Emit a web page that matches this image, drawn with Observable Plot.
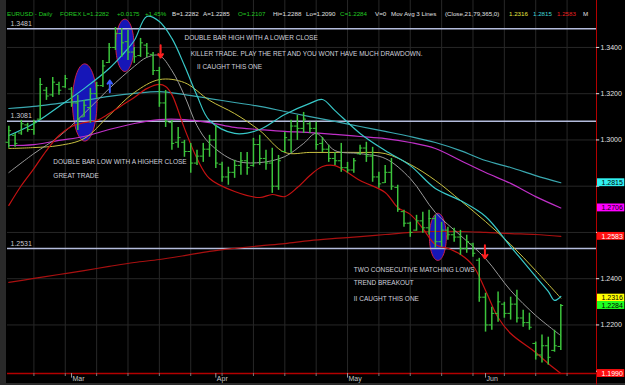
<!DOCTYPE html>
<html><head><meta charset="utf-8">
<script src="https://cdn.jsdelivr.net/npm/d3@7"></script>
<script src="https://cdn.jsdelivr.net/npm/@observablehq/plot@0.6"></script>
<style>
body{margin:0;background:#000;}
#wrap{position:relative;width:625px;height:385px;background:#000;overflow:hidden;font-family:"Liberation Sans",Arial,sans-serif;}
#wrap svg{position:absolute;left:0;top:0;}
#hdr{position:absolute;left:0;top:0;width:625px;height:18px;font-size:6.2px;}
#hdr span{position:absolute;top:9.5px;line-height:7px;white-space:nowrap;}
#lstrip{position:absolute;left:0;top:0;width:6px;height:385px;background:#2a2a2a;}
#bstrip{position:absolute;left:0;top:383px;width:625px;height:2px;background:#2a2a2a;}
</style></head><body>
<div id="wrap"><div id="lstrip"></div><div id="bstrip"></div><div id="hdr"></div></div>
<script>
// ---------- DATA ----------
const highs = [1.3059,1.3028,1.3085,1.3072,1.3085,1.3266,1.3227,1.3270,1.3249,1.3279,
1.3227,1.3193,1.3171,1.3223,1.3249,1.3344,1.3417,1.3486,1.3482,1.3473,
1.3400,1.3439,1.3417,1.3378,1.3314,1.3214,1.3085,1.3054,1.2998,1.2985,
1.2955,1.2985,1.3020,1.3063,1.2903,1.2882,1.2912,1.2946,1.2946,1.3007,
1.3020,1.2955,1.2964,1.2933,1.3033,1.3085,1.3106,1.3119,1.3076,1.3076,
1.3011,1.2977,1.2946,1.2985,1.2903,1.2920,1.2977,1.2990,1.2968,1.2860,
1.2890,1.2920,1.2804,1.2696,1.2644,1.2674,1.2687,1.2696,1.2674,1.2644,
1.2622,1.2618,1.2609,1.2588,1.2553,1.2488,1.2337,1.2277,1.2342,1.2298,
1.2320,1.2350,1.2264,1.2251,1.2126,1.2156,1.2147,1.2177,1.2288];
const lows = [1.2964,1.2968,1.3020,1.3033,1.3020,1.3085,1.3171,1.3184,1.3193,1.3223,
1.3141,1.3041,1.3098,1.3072,1.3180,1.3227,1.3331,1.3387,1.3357,1.3344,
1.3331,1.3357,1.3357,1.3279,1.3141,1.3054,1.2955,1.2964,1.2925,1.2856,
1.2890,1.2903,1.2925,1.2877,1.2817,1.2804,1.2834,1.2847,1.2847,1.2882,
1.2890,1.2869,1.2769,1.2782,1.2946,1.2942,1.2998,1.3028,1.3028,1.2955,
1.2946,1.2903,1.2890,1.2860,1.2856,1.2856,1.2933,1.2903,1.2817,1.2791,
1.2812,1.2782,1.2687,1.2622,1.2579,1.2605,1.2596,1.2588,1.2532,1.2536,
1.2566,1.2558,1.2501,1.2510,1.2493,1.2298,1.2169,1.2177,1.2212,1.2229,
1.2221,1.2208,1.2190,1.2177,1.2048,1.2035,1.2026,1.2082,1.2090];
const opens = [1.2990,1.3020,1.3030,1.3065,1.3045,1.3090,1.3215,1.3195,1.3240,1.3230,
1.3220,1.3160,1.3100,1.3140,1.3200,1.3235,1.3335,1.3400,1.3460,1.3425,
1.3380,1.3365,1.3410,1.3370,1.3300,1.3160,1.3075,1.2990,1.2990,1.2950,
1.2900,1.2930,1.2960,1.3000,1.2895,1.2840,1.2860,1.2890,1.2910,1.2890,
1.2980,1.2920,1.2900,1.2800,1.2950,1.3000,1.3060,1.3050,1.3070,1.3050,
1.2985,1.2960,1.2920,1.2910,1.2880,1.2870,1.2940,1.2965,1.2930,1.2840,
1.2815,1.2860,1.2795,1.2690,1.2640,1.2610,1.2650,1.2620,1.2660,1.2560,
1.2610,1.2590,1.2580,1.2530,1.2550,1.2480,1.2320,1.2200,1.2250,1.2290,
1.2250,1.2290,1.2230,1.2210,1.2120,1.2070,1.2110,1.2090,1.2107];
const closes = [1.3040,1.2985,1.3070,1.3045,1.3075,1.3240,1.3190,1.3250,1.3215,1.3265,
1.3160,1.3090,1.3150,1.3200,1.3235,1.3320,1.3400,1.3460,1.3420,1.3380,
1.3360,1.3420,1.3375,1.3300,1.3160,1.3080,1.2985,1.3010,1.2950,1.2900,
1.2930,1.2960,1.3000,1.2900,1.2840,1.2860,1.2890,1.2910,1.2880,1.2980,
1.2920,1.2900,1.2800,1.2910,1.3010,1.3060,1.3050,1.3090,1.3050,1.2980,
1.2960,1.2920,1.2910,1.2880,1.2870,1.2910,1.2965,1.2930,1.2840,1.2810,
1.2860,1.2800,1.2700,1.2640,1.2600,1.2650,1.2620,1.2660,1.2560,1.2610,
1.2590,1.2580,1.2530,1.2560,1.2510,1.2320,1.2200,1.2250,1.2300,1.2250,
1.2290,1.2230,1.2210,1.2190,1.2070,1.2110,1.2060,1.2110,1.2284];

// moving averages / bands (bar index -> price)
const maIdx = [0,4,8,12,16,20,24,28,32,36,40,44,48,52,56,60,64,68,72,76,80,84,88];
const ma79 = [1.3136,1.3145,1.3158,1.3171,1.3188,1.3201,1.3209,1.3196,1.3179,1.3162,1.3145,1.3123,1.3101,1.3080,1.3058,1.3037,1.3015,1.2989,1.2954,1.2911,1.2881,1.2846,1.2815];
const maMagenta = [1.2976,1.2980,1.2998,1.3015,1.3045,1.3071,1.3088,1.3088,1.3075,1.3054,1.3045,1.3037,1.3032,1.3024,1.3015,1.3006,1.2989,1.2963,1.2911,1.2859,1.2812,1.2755,1.2706];
const ma21 = [1.2963,1.2967,1.2976,1.3006,1.3106,1.3205,1.3261,1.3248,1.3171,1.3114,1.3041,1.2946,1.2946,1.2946,1.2946,1.2941,1.2894,1.2825,1.2738,1.2647,1.2548,1.2435,1.2316];
const ma365 = [1.2384,1.2401,1.2418,1.2435,1.2453,1.2470,1.2483,1.2500,1.2518,1.2531,1.2542,1.2552,1.2565,1.2574,1.2582,1.2591,1.2600,1.2604,1.2604,1.2600,1.2595,1.2591,1.2583];
const midIdx = [0,4,8,12,16,20,22,24,26,28,30,32,36,40,44,47,49,52,56,60,64,68,72,76,80,84,88];
const midLine = [1.2859,1.2941,1.3015,1.3114,1.3222,1.3318,1.3357,1.3365,1.3300,1.3192,1.3062,1.2985,1.2911,1.2902,1.2928,1.2985,1.3028,1.2954,1.2941,1.2920,1.2833,1.2686,1.2587,1.2487,1.2349,1.2241,1.2154];
const upIdx = [0,4,8,12,16,18,20,22,24,26,28,30,32,36,40,44,48,50,52,56,60,64,68,72,76,80,84,86,87,88];
const upperBand = [1.3019,1.3071,1.3145,1.3222,1.3309,1.3365,1.3430,1.3534,1.3512,1.3439,1.3322,1.3192,1.3084,1.3028,1.3045,1.3110,1.3158,1.3175,1.3127,1.3028,1.2954,1.2889,1.2790,1.2738,1.2669,1.2539,1.2409,1.2345,1.2306,1.2323];
const loIdx = [0,2,4,6,8,10,12,14,16,18,20,22,24,25,26,28,30,32,36,40,42,44,46,48,50,52,56,60,62,64,66,68,70,72,74,76,78,80,84,86,88];
const lowerBand = [1.2717,1.2803,1.2876,1.2954,1.3019,1.3058,1.3075,1.3084,1.3114,1.3149,1.3184,1.3222,1.3240,1.3231,1.3196,1.3050,1.2920,1.2833,1.2777,1.2751,1.2764,1.2755,1.2794,1.2846,1.2885,1.2889,1.2825,1.2773,1.2708,1.2678,1.2617,1.2548,1.2531,1.2505,1.2457,1.2349,1.2232,1.2163,1.2081,1.2033,1.1990];

// reference levels, grid, ticks
const refLevels = [1.3481, 1.3081, 1.2531];
const gridLevels = [1.22,1.24,1.26,1.28,1.30,1.32,1.34];
const yTicks = [1.20,1.22,1.24,1.26,1.28,1.30,1.32,1.34];
const yTickLabels = [1.22,1.24,1.30,1.32,1.34];
const weekBars = [4,9,14,19,24,29,34,39,44,49,54,59,64,69,74,79,84,89];
const monthBars = [10,33,54,76];
const monthLabels = ["Mar","Apr","May","Jun"];
const lastValues = [1.2815,1.2706,1.2583,1.2316,1.2284,1.1990];

// ellipses (center bar, center price, half-width in bars, half-height in price)
const ellCx = [12.1, 18.5, 68.4];
const ellCy = [1.3162, 1.3409, 1.2581];
const ellRx = [1.95, 1.45, 1.35];
const ellRy = [0.0167, 0.0113, 0.0102];

// arrows
const arrowBar = [16.1, 24.2, 75.9];
const arrowFrom = [1.3206, 1.3409, 1.2545];
const arrowTo = [1.3257, 1.3357, 1.2488];

// annotations
const noteText = ["DOUBLE BAR HIGH WITH A LOWER CLOSE","KILLER TRADE. PLAY THE RET AND YOU WONT HAVE MUCH DRAWDOWN.","II CAUGHT THIS ONE",
"DOUBLE BAR LOW WITH A HIGHER CLOSE","GREAT TRADE","TWO CONSECUTIVE MATCHING LOWS","TREND BREAKOUT","II CAUGHT THIS ONE"];
const noteBar = [28.0, 29.0, 30.0, 7.1, 7.1, 55.0, 55.0, 55.0];
const notePrice = [1.3443, 1.3374, 1.3314, 1.2903, 1.2843, 1.2437, 1.2380, 1.2311];

// header
const headerText = ["EURUSD - Daily","FOREX","L=1.2282","+0.0175","+1.45%","B=1.2282","A=1.2285","O=1.2107","Hi=1.2288","Lo=1.2090","C=1.2284","V=0","Mov Avg 3 Lines","(Close,21,79,365,0)","1.2316","1.2815","1.2583","M"];

// ---------- STYLE / LAYOUT ----------
const G="#22c822", W="#e0e0e0";
const headerColor = [G,G,G,G,G,W,W,G,W,W,G,W,W,W,"#e6e640","#40d8d8","#e82020",W];
const headerX = [7,60,83,117,145,172,203,238,273,306,340,375,391,445,509,533,557,583];
const boxFill = ["#30f0f0","#ff00ff","#ff1010","#ffff00","#20ff20","#ff1010"];
const boxText = ["#000","#000","#fff","#000","#000","#fff"];

const hdr = document.getElementById("hdr");
headerText.forEach((t,k)=>{const s=document.createElement("span");s.textContent=t;s.style.left=headerX[k]+"px";s.style.color=headerColor[k];hdr.appendChild(s);});

const bars = highs.map((h,i)=>({i, h, l: lows[i], o: opens[i], c: closes[i]}));
const series = (idx, vals) => idx.map((i,k)=>({i, p: vals[k]}));
const ellPts = ellCx.flatMap((cx,k)=>d3.range(0,65).map(t=>{const a=t/64*2*Math.PI;return {k, i: cx+ellRx[k]*Math.cos(a), p: ellCy[k]+ellRy[k]*Math.sin(a)};}));
const arrows = arrowBar.map((b,k)=>({b, f: arrowFrom[k], t: arrowTo[k], col: k===0 ? "#3a5cff" : "#ff2020"}));
const notes = noteText.map((t,k)=>({t, i: noteBar[k], p: notePrice[k]}));
const months = monthBars.map((b,k)=>({b, t: monthLabels[k]}));
const boxes = lastValues.map((v,k)=>({v, fill: boxFill[k], tc: boxText[k]}));
const f4 = d3.format(".4f");

const chart = Plot.plot({
  width: 625, height: 385,
  marginLeft: 7, marginRight: 29, marginTop: 0, marginBottom: 12,
  style: {background: "transparent", color: "#e8e8e8", fontFamily: "'Liberation Sans', Arial, sans-serif", fontSize: "7px", overflow: "visible"},
  x: {domain: [-0.21, 93.69], axis: null},
  y: {domain: [1.1990, 1.3603], axis: null},
  marks: [
    Plot.ruleY(gridLevels, {stroke: "#272727", strokeWidth: 1}),
    Plot.ruleX(weekBars, {stroke: "#272727", strokeWidth: 1}),
    Plot.line(ellPts, {x: "i", y: "p", z: "k", fill: "#1616b8", stroke: "#c8204a", strokeWidth: 1}),
    Plot.ruleY(refLevels, {stroke: "#b4bcdc", strokeWidth: 1.5}),
    Plot.text(refLevels, {y: d=>d, frameAnchor: "left", dx: 3, dy: -5, text: f4, fill: "#c8c8d0", textAnchor: "start", fontSize: 7}),
    Plot.line(series(maIdx, ma365), {x: "i", y: "p", stroke: "#a81010", strokeWidth: 1.2, curve: "catmull-rom"}),
    Plot.line(series(maIdx, maMagenta), {x: "i", y: "p", stroke: "#c030c8", strokeWidth: 1.2, curve: "catmull-rom"}),
    Plot.line(series(maIdx, ma79), {x: "i", y: "p", stroke: "#3aa8b0", strokeWidth: 1.2, curve: "catmull-rom"}),
    Plot.line(series(maIdx, ma21), {x: "i", y: "p", stroke: "#c8c040", strokeWidth: 1, curve: "catmull-rom"}),
    Plot.line(series(midIdx, midLine), {x: "i", y: "p", stroke: "#9a9a9a", strokeWidth: 1, curve: "catmull-rom"}),
    Plot.line(series(upIdx, upperBand), {x: "i", y: "p", stroke: "#38c8c8", strokeWidth: 1.2, curve: "catmull-rom"}),
    Plot.line(series(loIdx, lowerBand), {x: "i", y: "p", stroke: "#c41212", strokeWidth: 1.2, curve: "catmull-rom"}),
    Plot.ruleX(bars, {x: "i", y1: "l", y2: "h", stroke: "#3cc43c", strokeWidth: 1.5}),
    Plot.ruleY(bars, {y: "o", x1: d=>d.i-0.45, x2: "i", stroke: "#3cc43c", strokeWidth: 1}),
    Plot.ruleY(bars, {y: "c", x1: "i", x2: d=>d.i+0.45, stroke: "#3cc43c", strokeWidth: 1}),
    Plot.arrow(arrows, {x1: "b", x2: "b", y1: "f", y2: "t", stroke: d=>d.col, strokeWidth: 2, headLength: 5, headAngle: 70}),
    Plot.text(notes, {x: "i", y: "p", text: "t", fill: "#d0d0dc", textAnchor: "start", fontSize: 6.5}),
    Plot.ruleY([1.1990], {stroke: "#b40000", strokeWidth: 1.5}),
    Plot.ruleX([93.69], {y1: 1.1940, y2: 1.3603, stroke: "#b40000", strokeWidth: 1}),
    Plot.ruleX(weekBars, {y1: 1.1990, y2: 1.1977, stroke: "#777"}),
    Plot.ruleX(monthBars, {y1: 1.1990, y2: 1.1970, stroke: "#999"}),
    Plot.text(months, {x: "b", frameAnchor: "bottom", text: "t", dy: 7, dx: 1, textAnchor: "start", fill: "#c8c8c8", fontSize: 7}),
    Plot.ruleY(yTicks, {y: d=>d, x1: 93.69, x2: 94.2, stroke: "#e0e0e0"}),
    Plot.text(yTickLabels, {y: d=>d, frameAnchor: "right", dx: 4, text: f4, textAnchor: "start", fill: "#e0e0e0", fontSize: 7}),
    Plot.rect(boxes, {x1: 93.85, x2: 98.2, y1: d=>d.v-0.0017, y2: d=>d.v+0.0017, fill: "fill"}),
    Plot.text(boxes, {y: "v", frameAnchor: "right", dx: 5, text: d=>f4(d.v), textAnchor: "start", fill: "tc", fontSize: 7})
  ],
  color: {type: "identity"}
});
document.getElementById("wrap").insertBefore(chart, document.getElementById("hdr"));
</script>
</body></html>
